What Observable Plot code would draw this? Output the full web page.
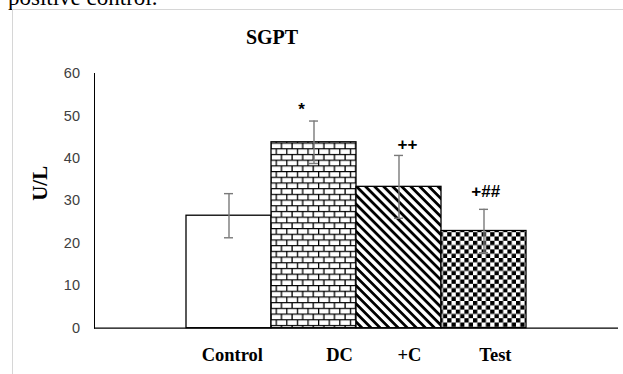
<!DOCTYPE html>
<html><head><meta charset="utf-8">
<script src="https://cdn.jsdelivr.net/npm/d3@7"></script>
<script src="https://cdn.jsdelivr.net/npm/@observablehq/plot@0.6"></script>
<style>
body{margin:0;background:#fff;}
#wrap{position:relative;width:623px;height:374px;overflow:hidden;background:#fff;}
#doc{position:absolute;left:8px;top:-14px;font:23px/23px "Liberation Serif",serif;color:#000;white-space:nowrap;}
#border{position:absolute;left:12px;top:9px;right:-2px;bottom:-2px;border-left:1px solid #d6d6d6;border-top:1px solid #d6d6d6;}
#chart{position:absolute;left:0;top:0;}
#title{position:absolute;left:0;width:544px;top:27px;text-align:center;font:bold 20px/20px "Liberation Serif",serif;color:#000;}
</style></head><body>
<div id="wrap">
  <div id="doc">positive control.</div>
  <div id="border"></div>
  <div id="chart"></div>
  <div id="title">SGPT</div>
</div>
<script>
const categories = ["Control", "DC", "+C", "Test"];
const means = [26.5, 43.8, 33.3, 22.9];
const errors = [5.2, 5.0, 7.4, 5.1];
const signif = ["", "*", "++", "+##"];
const yTicks = [0, 10, 20, 30, 40, 50, 60];
const fills = ["white", "url(#brick)", "url(#stripes)", "url(#checker)"];

// layout offsets (pixels) for labels, kept apart from the data
const labelDx = [3.3, 25.6, 10.5, 11.4];
const signifDx = [0, -12.5, 8.4, 1.7];
const signifDy = [0, -11, -11, -17.3];

const data = categories.map((c, i) => ({cat: c, mean: means[i], err: errors[i], lo: means[i] - errors[i], hi: means[i] + errors[i], sig: signif[i], fill: fills[i]}));

const serif = '"Liberation Serif","Times New Roman",serif';
const sans = '"Liberation Sans",Arial,sans-serif';

const plot = Plot.plot({
  width: 623,
  height: 374,
  marginLeft: 94,
  marginRight: 5,
  marginTop: 73,
  marginBottom: 46.3,
  style: {background: "transparent", overflow: "visible"},
  x: {domain: categories, paddingInner: 0, paddingOuter: 1.08, axis: null},
  y: {domain: [0, 60], ticks: yTicks, tickSize: 0, tickPadding: 14.5, line: true, label: null, tickFormat: d => String(d)},
  marks: [
    Plot.barY(data, {x: "cat", y: "mean", fill: "fill", stroke: "black", strokeWidth: 1.3}),
    Plot.ruleY([0], {stroke: "black", strokeWidth: 1.2}),
    Plot.ruleX(data, {x: "cat", y1: "lo", y2: "hi", stroke: "#7a7a7a", strokeWidth: 1.4}),
    Plot.tickY(data, {x: "cat", y: "hi", insetLeft: 38, insetRight: 38, stroke: "#7a7a7a", strokeWidth: 1.4}),
    Plot.tickY(data, {x: "cat", y: "lo", insetLeft: 38, insetRight: 38, stroke: "#7a7a7a", strokeWidth: 1.4}),
    ...data.map((d, i) => Plot.text([d], {x: "cat", y: "hi", text: "sig", dx: signifDx[i], dy: signifDy[i], fontSize: 17, fontWeight: "bold", fontFamily: sans, fill: "black", lineAnchor: "middle"})),
    ...data.map((d, i) => Plot.text([d], {x: "cat", y: () => 0, text: "cat", dx: labelDx[i], dy: 27.3, fontSize: 18.5, fontWeight: "bold", fontFamily: serif, fill: "black", lineAnchor: "middle"})),
    Plot.text(["U/L"], {frameAnchor: "left", text: d => d, rotate: -90, dx: -54, fontSize: 21, fontWeight: "bold", fontFamily: serif, fill: "black", lineAnchor: "middle"})
  ]
});

d3.select(plot).selectAll('g[aria-label="y-axis tick label"]')
  .attr("font-size", 14.5).attr("font-family", sans).attr("fill", "#404040")
  .selectAll("text").attr("fill", "#404040");

const defs = d3.select(plot).insert("defs", ":first-child");
defs.html(`
<pattern id="brick" patternUnits="userSpaceOnUse" width="10.6" height="11.4">
  <rect width="10.6" height="11.4" fill="white"/>
  <path d="M0,0.6H10.6M0,6.3H10.6M0.6,0V5.7M5.9,5.7V11.4" stroke="black" stroke-width="1.3" fill="none"/>
</pattern>
<pattern id="stripes" patternUnits="userSpaceOnUse" width="6.4" height="6.4" patternTransform="rotate(45)">
  <rect width="6.4" height="6.4" fill="white"/>
  <rect width="6.4" height="2.8" fill="black"/>
</pattern>
<pattern id="checker" patternUnits="userSpaceOnUse" width="8.6" height="8.6">
  <rect width="8.6" height="8.6" fill="white"/>
  <rect width="4.3" height="4.3" fill="black"/>
  <rect x="4.3" y="4.3" width="4.3" height="4.3" fill="black"/>
</pattern>`);

document.getElementById("chart").appendChild(plot);
</script>
</body></html>
